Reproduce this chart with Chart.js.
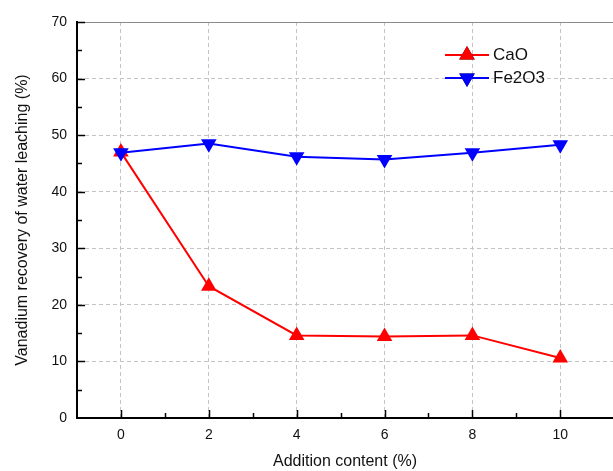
<!DOCTYPE html>
<html>
<head>
<meta charset="utf-8">
<script src="https://cdn.jsdelivr.net/npm/chart.js@4"></script>
<style>
  html, body { margin: 0; padding: 0; background: #fff; }
  #wrap { width: 613px; height: 471px; }
</style>
</head>
<body>
<div id="wrap"><canvas id="recoveryChart" width="613" height="471"></canvas></div>
<script>
// chart data
const additionContent = [0, 2, 4, 6, 8, 10];
const caoRecovery = [47.0, 23.3, 14.6, 14.4, 14.6, 10.6];
const fe2o3Recovery = [46.9, 48.5, 46.2, 45.7, 46.9, 48.3];
const xTickValues = [0, 2, 4, 6, 8, 10];
const yTickValues = [0, 10, 20, 30, 40, 50, 60, 70];

const FONT = 'Liberation Sans, Arial, sans-serif';

// inward tick marks, solid top line and the inset legend
const decorPlugin = {
    id: 'decor',
    afterDraw(chart) {
        const c = chart.ctx;
        const xs = chart.scales.x, ys = chart.scales.y;
        const area = chart.chartArea;
        c.save();
        // top border line
        c.strokeStyle = '#8a8a8a';
        c.lineWidth = 1;
        c.beginPath();
        c.moveTo(area.left, area.top + 0.5);
        c.lineTo(area.right, area.top + 0.5);
        c.stroke();

        c.strokeStyle = '#000';
        c.lineWidth = 1.5;
        // x ticks (major + minor)
        for (let v = 0; v <= 10; v++) {
            const px = Math.round(xs.getPixelForValue(v)) + 0.5;
            const len = v % 2 === 0 ? 8 : 5;
            c.beginPath();
            c.moveTo(px, area.bottom);
            c.lineTo(px, area.bottom - len);
            c.stroke();
        }
        // y ticks (major + minor)
        for (let v = 5; v <= 70; v += 5) {
            const py = Math.round(ys.getPixelForValue(v)) + 0.5;
            const len = v % 10 === 0 ? 8 : 5;
            c.beginPath();
            c.moveTo(area.left, py);
            c.lineTo(area.left + len, py);
            c.stroke();
        }

        // legend
        const items = chart.data.datasets;
        const lx = 445, ly = 55, gap = 23;
        items.forEach((ds, i) => {
            const y = ly + i * gap;
            c.strokeStyle = ds.borderColor;
            c.lineWidth = 2;
            c.beginPath();
            c.moveTo(lx, y);
            c.lineTo(lx + 44, y);
            c.stroke();
            Chart.helpers.drawPoint(c, {
                pointStyle: 'triangle',
                radius: 9,
                rotation: ds.pointRotation || 0,
                borderWidth: 0
            }, lx + 22, y);
            c.fillStyle = ds.pointBackgroundColor;
            c.fill();
            c.fillStyle = '#111';
            c.font = '17px ' + FONT;
            c.textBaseline = 'middle';
            c.fillText(ds.label, lx + 48, y);
        });
        c.restore();
    }
};

new Chart(document.getElementById('recoveryChart'), {
    type: 'line',
    data: {
        datasets: [
            {
                label: 'CaO',
                data: additionContent.map((x, i) => ({ x: x, y: caoRecovery[i] })),
                borderColor: '#ff0000',
                backgroundColor: '#ff0000',
                pointBackgroundColor: '#ff0000',
                pointBorderWidth: 0,
                pointStyle: 'triangle',
                pointRadius: 9,
                borderWidth: 2,
                order: 2
            },
            {
                label: 'Fe2O3',
                data: additionContent.map((x, i) => ({ x: x, y: fe2o3Recovery[i] })),
                borderColor: '#0000ff',
                backgroundColor: '#0000ff',
                pointBackgroundColor: '#0000ff',
                pointBorderWidth: 0,
                pointStyle: 'triangle',
                pointRotation: 180,
                pointRadius: 9,
                borderWidth: 2,
                order: 1
            }
        ]
    },
    options: {
        responsive: false,
        animation: false,
        layout: { autoPadding: false, padding: { top: 22, right: 0, left: 0, bottom: 0 } },
        plugins: {
            legend: { display: false },
            tooltip: { enabled: false }
        },
        scales: {
            x: {
                type: 'linear',
                min: -1,
                max: 11.2,
                afterBuildTicks: s => { s.ticks = xTickValues.map(v => ({ value: v })); },
                afterFit: s => { s.height = 53; s.paddingLeft = 0; s.paddingRight = 0; },
                grid: {
                    color: '#c4c4c4',
                    drawTicks: false,
                    lineWidth: 1
                },
                border: { color: '#000', width: 2, dash: [4, 3] },
                ticks: {
                    padding: 9,
                    color: '#111',
                    font: { family: FONT, size: 14 }
                },
                title: {
                    display: true,
                    text: 'Addition content (%)',
                    color: '#111',
                    font: { family: FONT, size: 16 },
                    padding: { top: 6, bottom: 0 }
                }
            },
            y: {
                min: 0,
                max: 70,
                afterBuildTicks: s => { s.ticks = yTickValues.map(v => ({ value: v })); },
                afterFit: s => { s.width = 77; s.paddingTop = 0; s.paddingBottom = 0; },
                grid: {
                    color: ctx => (ctx.tick && ctx.tick.value === 70) ? 'rgba(0,0,0,0)' : '#c4c4c4',
                    drawTicks: false,
                    lineWidth: 1
                },
                border: { color: '#000', width: 2, dash: [4, 3] },
                ticks: {
                    padding: 10,
                    color: '#111',
                    font: { family: FONT, size: 14 }
                },
                title: {
                    display: true,
                    text: 'Vanadium recovery of water leaching (%)',
                    color: '#111',
                    font: { family: FONT, size: 16 },
                    padding: { top: 13, bottom: 0 }
                }
            }
        }
    },
    plugins: [decorPlugin]
});
</script>
</body>
</html>
